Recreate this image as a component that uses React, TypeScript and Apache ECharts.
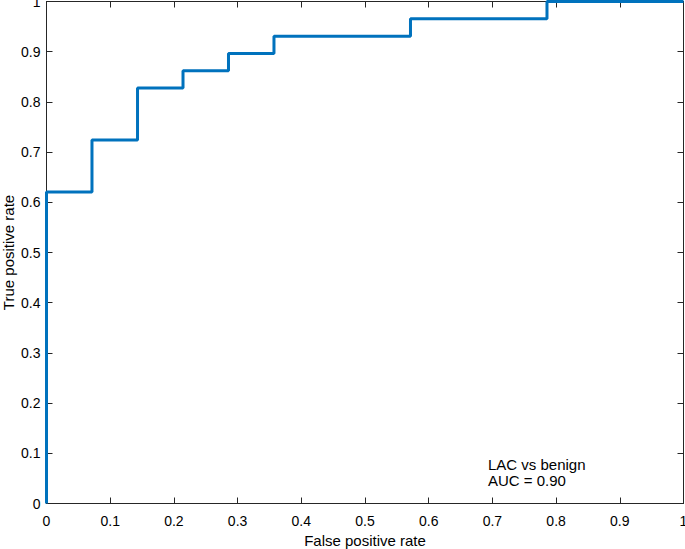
import React, { useEffect, useRef } from "react";
import * as echarts from "echarts";

const fpr = [0, 0, 0.0714, 0.0714, 0.1429, 0.1429, 0.2143, 0.2143, 0.2857, 0.2857, 0.3571, 0.3571, 0.5714, 0.5714, 0.7857, 0.7857, 1];
const tpr = [0, 0.6207, 0.6207, 0.7241, 0.7241, 0.8276, 0.8276, 0.8621, 0.8621, 0.8966, 0.8966, 0.931, 0.931, 0.9655, 0.9655, 1, 1];
const annotation = ["LAC vs benign", "AUC = 0.90"];
const xName = "False positive rate";
const yName = "True positive rate";

export default function App() {
  const ref = useRef<HTMLDivElement>(null);
  useEffect(() => {
    const chart = echarts.init(ref.current!, undefined, { renderer: "svg" });
    const font = "Liberation Sans, Arial, Helvetica, sans-serif";
    const axisColor = "#262626";
    const common = {
      min: 0,
      max: 1,
      interval: 0.1,
      axisLine: { show: true, onZero: false, lineStyle: { color: axisColor, width: 1 } },
      axisTick: { show: true, inside: true, length: 6, lineStyle: { color: axisColor } },
      splitLine: { show: false },
    };
    chart.setOption({
      animation: false,
      backgroundColor: "#fff",
      grid: { left: 46.5, top: 1.5, width: 637, height: 502, containLabel: false, outerBoundsMode: "none" },
      xAxis: [
        {
          ...common,
          type: "value",
          position: "bottom",
          name: xName,
          nameLocation: "middle",
          nameGap: 29,
          nameTextStyle: { fontFamily: font, fontSize: 15, color: "#000" },
          axisLabel: { margin: 10, fontFamily: font, fontSize: 14, color: "#000" },
        },
        {
          ...common,
          type: "value",
          position: "top",
          axisLabel: { show: false },
        },
      ],
      yAxis: [
        {
          ...common,
          type: "value",
          position: "left",
          name: yName,
          nameLocation: "middle",
          nameGap: 31,
          nameMoveOverlap: false,
          nameRotate: 90,
          nameTextStyle: { fontFamily: font, fontSize: 15, color: "#000" },
          axisLabel: { margin: 6, fontFamily: font, fontSize: 14, color: "#000" },
        },
        {
          ...common,
          type: "value",
          position: "right",
          axisLabel: { show: false },
        },
      ],
      series: [
        {
          type: "line",
          data: fpr.map((x, i) => [x, tpr[i]]),
          symbol: "none",
          lineStyle: { color: "#0072BD", width: 3 },
          clip: false,
        },
      ],
      graphic: [
        {
          type: "text",
          left: 488,
          top: 456,
          style: {
            text: annotation.join("\n"),
            font: `15px ${font}`,
            lineHeight: 16,
            fill: "#000",
          },
        },
      ],
    });
    return () => chart.dispose();
  }, []);
  return <div ref={ref} style={{ width: 685, height: 549, position: "absolute", left: 0, top: 0 }} />;
}
